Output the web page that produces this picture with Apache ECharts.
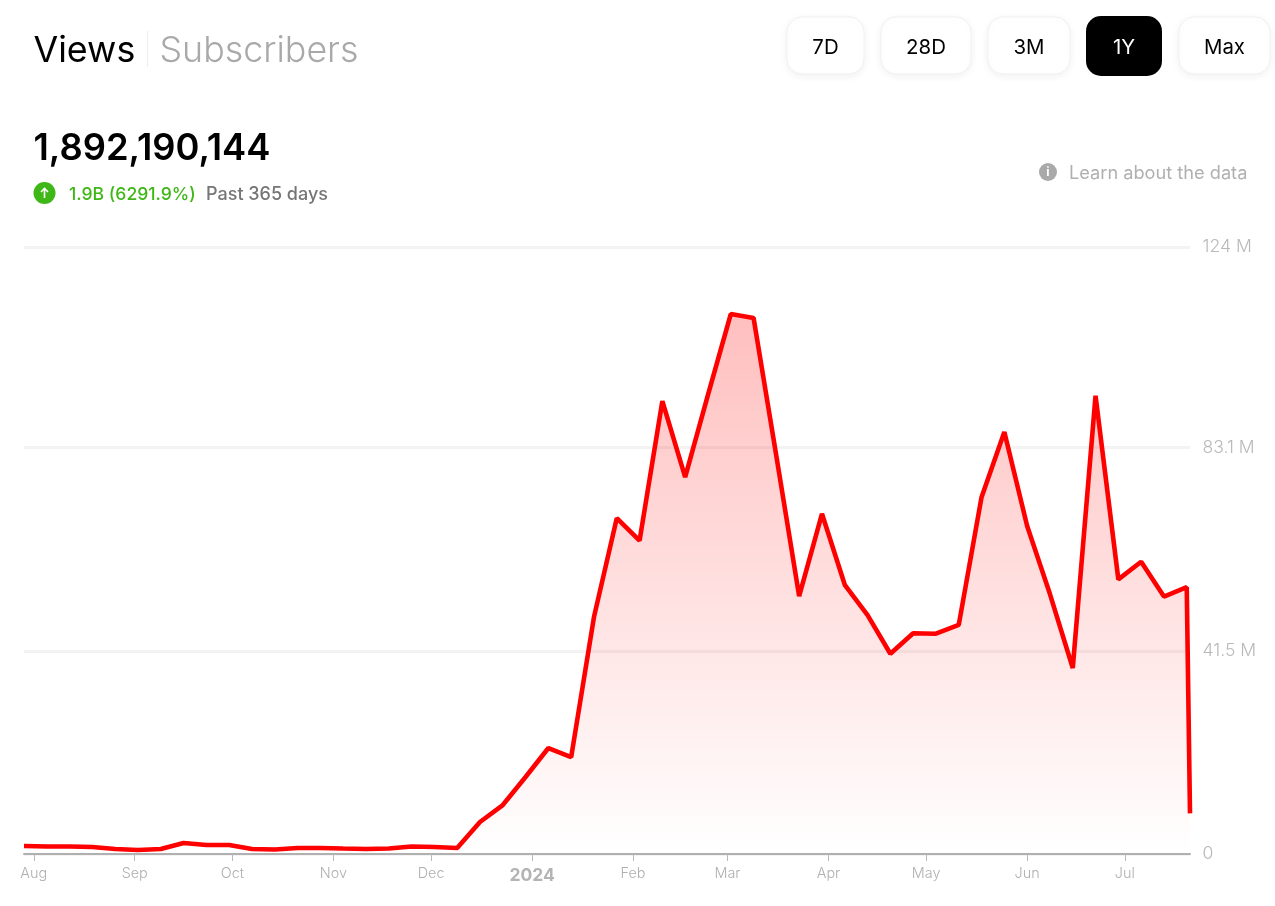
<!DOCTYPE html>
<html><head><meta charset="utf-8">
<style>html,body{margin:0;padding:0;background:#fff}#c{width:1275px;height:906px}</style>
<script src="https://cdn.jsdelivr.net/npm/echarts@6/dist/echarts.min.js"></script>
</head><body><div id="c"></div>
<script>
const weekDates = ['2023-07-29','2023-08-05','2023-08-12','2023-08-19','2023-08-26','2023-09-02','2023-09-09','2023-09-16','2023-09-23','2023-09-30','2023-10-07','2023-10-14','2023-10-21','2023-10-28','2023-11-04','2023-11-11','2023-11-18','2023-11-25','2023-12-02','2023-12-09','2023-12-16','2023-12-23','2023-12-30','2024-01-06','2024-01-13','2024-01-20','2024-01-27','2024-02-03','2024-02-10','2024-02-17','2024-02-24','2024-03-02','2024-03-09','2024-03-16','2024-03-23','2024-03-30','2024-04-06','2024-04-13','2024-04-20','2024-04-27','2024-05-04','2024-05-11','2024-05-18','2024-05-25','2024-06-01','2024-06-08','2024-06-15','2024-06-22','2024-06-29','2024-07-06','2024-07-13','2024-07-20','2024-07-21'];
const viewsMillions = [1.63,1.53,1.53,1.43,1.02,0.82,1.02,2.25,1.84,1.84,1.02,0.92,1.23,1.23,1.12,1.02,1.12,1.53,1.43,1.23,6.54,10.0,15.73,21.65,19.8,48.4,68.6,64.0,92.5,77.0,93.8,110.3,109.5,81.3,52.7,69.5,55.0,48.8,40.9,45.1,45.0,46.8,72.9,86.2,67.0,53.1,38.0,93.6,56.1,59.7,52.6,54.5,8.3];
const monthTicks = ['2023-08-01','2023-09-01','2023-10-01','2023-11-01','2023-12-01','2024-01-01','2024-02-01','2024-03-01','2024-04-01','2024-05-01','2024-06-01','2024-07-01'];
const monthLabels = ['Aug','Sep','Oct','Nov','Dec','2024','Feb','Mar','Apr','May','Jun','Jul'];
const yTicks = [0,41.5,83.1,124];
const yLabels = ['0','41.5 M','83.1 M','124 M'];
const rangeLabels = ['7D','28D','3M','1Y','Max'];
const activeRange = '1Y';
const tabs = ['Views','Subscribers'];
const totalViews = '1,892,190,144';
const changeText = '1.9B (6291.9%)';
const periodText = 'Past 365 days';
const infoText = 'Learn about the data';

const FONT = 'Inter, "Noto Sans", sans-serif';
const toTs = s => new Date(s + 'T00:00:00').getTime();
const monthTs = monthTicks.map(toTs);
const btnBoxes = [[787,17,77,57],[881,17,90,57],[988,17,82,57],[1086,16,76,60],[1179,17,91,57]];

const buttons = [];
rangeLabels.forEach((t, i) => {
  const b = btnBoxes[i], on = t === activeRange;
  buttons.push({type:'rect', shape:{x:b[0],y:b[1],width:b[2],height:b[3],r:15},
    style: on ? {fill:'#000'} : {fill:'#fff',stroke:'#f1f1f1',lineWidth:1,shadowBlur:8,shadowColor:'rgba(0,0,0,0.06)',shadowOffsetY:2}});
  buttons.push({type:'text', style:{text:t,x:b[0]+b[2]/2,y:47.5,align:'center',verticalAlign:'middle',
    font:'400 20.4px '+FONT, fill:on?'#fff':'#000'}});
});

const chart = echarts.init(document.getElementById('c'), null, {renderer:'canvas'});
chart.setOption({
  animation:false,
  backgroundColor:'#fff',
  grid:{left:24,right:85,top:247,bottom:52,containLabel:false},
  xAxis:{type:'value',scale:true,min:toTs(weekDates[0]),max:toTs(weekDates[weekDates.length-1]),
    axisLine:{show:true,onZero:false,lineStyle:{color:'#b0b0b0',width:2}},
    axisTick:{show:true,customValues:monthTs,length:7,lineStyle:{color:'#b9b9b9',width:1}},
    splitLine:{show:false},
    axisLabel:{show:true,customValues:monthTs,margin:12.5,hideOverlap:false,
      formatter:v=>{const l=monthLabels[monthTs.indexOf(v)]; return l==='2024'?'{y|2024}':'{m|'+l+'}';},
      rich:{m:{fontFamily:FONT,fontSize:14.4,fontWeight:300,color:'#b0b0b0'},
            y:{fontFamily:FONT,fontSize:17.5,fontWeight:700,color:'#b4b4b4'}}}},
  yAxis:{type:'value',min:0,max:124,position:'right',
    axisLine:{show:false},
    axisTick:{show:false,customValues:yTicks},
    splitLine:{show:true,lineStyle:{color:'#f3f3f3',width:3}},
    axisLabel:{show:true,customValues:yTicks,margin:12.5,
      formatter:v=>yLabels[yTicks.indexOf(v)],
      fontFamily:FONT,fontSize:17.6,fontWeight:300,color:'#b9b9b9'}},
  series:[{type:'line',smooth:false,showSymbol:false,symbol:'none',clip:false,
    data:weekDates.map((d,i)=>[toTs(d),viewsMillions[i]]),
    lineStyle:{color:'#ff0000',width:4.6,join:'bevel',cap:'butt'},
    itemStyle:{color:'#ff0000'},
    areaStyle:{origin:'start',color:new echarts.graphic.LinearGradient(0,0,0,1,[
      {offset:0,color:'rgba(255,0,0,0.36)'},{offset:1,color:'rgba(255,0,0,0)'}])}}],
  graphic:{elements:[
    {type:'text',style:{text:tabs[0],x:33.5,y:51,verticalAlign:'middle',font:'400 35.8px '+FONT,fill:'#000'}},
    {type:'rect',shape:{x:147,y:31,width:1,height:36},style:{fill:'#eeeeee'}},
    {type:'text',style:{text:tabs[1],x:159.5,y:51,verticalAlign:'middle',font:'300 35.8px '+FONT,fill:'#a9a9a9'}},
    {type:'text',style:{text:totalViews,x:33.5,y:149,verticalAlign:'middle',font:'600 36.3px '+FONT,fill:'#000'}},
    {type:'circle',shape:{cx:44.5,cy:193,r:11},style:{fill:'#3fb817'}},
    {type:'polyline',shape:{points:[[44.5,198],[44.5,189]]},style:{stroke:'#fff',lineWidth:1.6,fill:null}},
    {type:'polyline',shape:{points:[[41,192],[44.5,188.5],[48,192]]},style:{stroke:'#fff',lineWidth:1.6,fill:null}},
    {type:'text',style:{text:changeText,x:69,y:195,verticalAlign:'middle',font:'500 17.6px '+FONT,fill:'#3fb817'}},
    {type:'text',style:{text:periodText,x:206,y:195,verticalAlign:'middle',font:'500 18px '+FONT,fill:'#757575'}},
    {type:'circle',shape:{cx:1048,cy:172,r:9},style:{fill:'#a9a9a9'}},
    {type:'text',style:{text:'i',x:1048,y:172,align:'center',verticalAlign:'middle',font:'700 12px '+FONT,fill:'#fff'}},
    {type:'text',style:{text:infoText,x:1069,y:174,verticalAlign:'middle',font:'400 18.2px '+FONT,fill:'#b0b0b0'}}
  ].concat(buttons)}
});
</script></body></html>
